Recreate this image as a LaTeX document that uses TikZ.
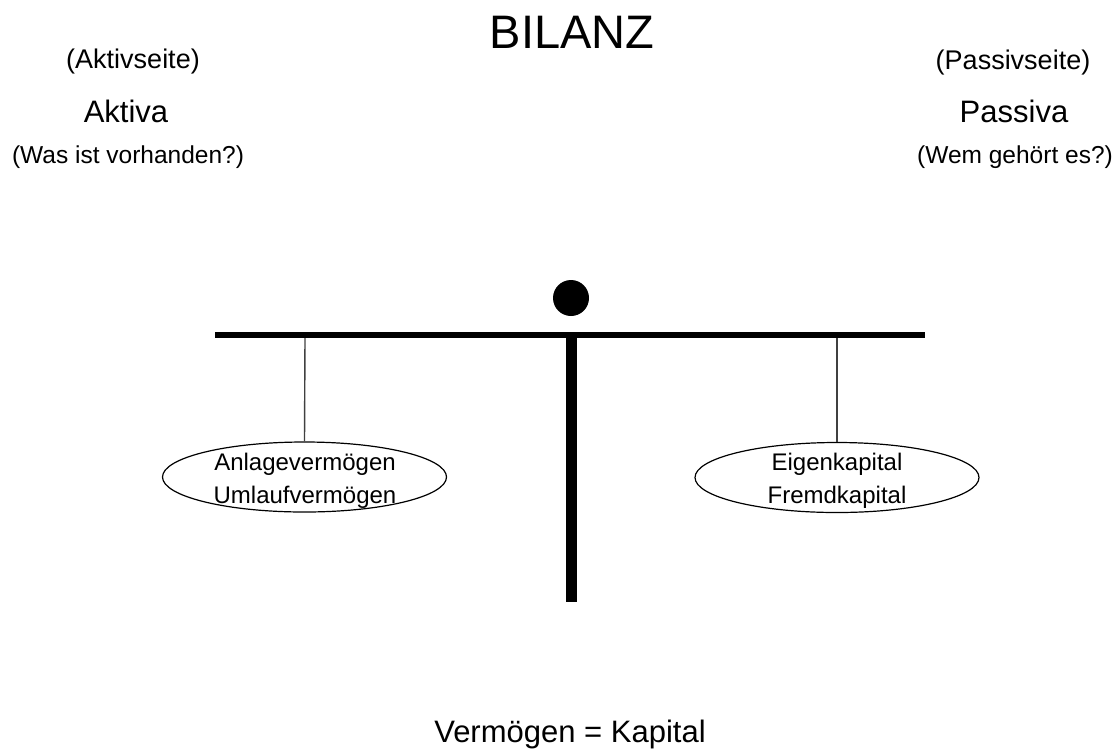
\documentclass[tikz,border=0pt]{standalone}
\usepackage{fontspec}
\setmainfont{Liberation Sans}
\usetikzlibrary{shapes.geometric}

\begin{document}
\begin{tikzpicture}[x=1pt,y=1pt,
    titel/.style={anchor=base,font=\fontsize{47}{56}\selectfont},
    seite/.style={anchor=base,font=\fontsize{27}{32}\selectfont},
    kopf/.style={anchor=base,font=\fontsize{31}{37}\selectfont},
    frage/.style={anchor=base,font=\fontsize{24.5}{29}\selectfont},
    schale/.style={draw,ellipse,line width=1.2pt,minimum width=284,minimum height=70,inner sep=0pt},
    schaltext/.style={align=center,font=\fontsize{24}{33}\selectfont},
    faden/.style={line width=1.4pt,black!75}]
    \useasboundingbox (0,0) rectangle (1119,-748);
    % Ueberschriften
    \node[titel] (bilanz) at (572,-48) {BILANZ};
    \node[seite] (aktivseite) at (133,-68) {(Aktivseite)};
    \node[kopf] (aktiva) at (126,-122) {Aktiva};
    \node[frage] (vorhanden) at (128,-163) {(Was ist vorhanden?)};
    \node[seite] (passivseite) at (1013,-69) {(Passivseite)};
    \node[kopf] (passiva) at (1014,-122) {Passiva};
    \node[frage] (gehoert) at (1015,-163) {(Wem gehört es?)};
    % Waage
    \coordinate (balkenL) at (215,-335);
    \coordinate (balkenR) at (925,-335);
    \coordinate (mitte) at (571.5,-335);
    \coordinate (fuss) at (571.5,-602);
    \draw[line width=6.5pt] (balkenL) -- (balkenR);
    \draw[line width=11pt] (mitte) -- (fuss);
    \node[circle,fill=black,minimum size=36,inner sep=0pt] (kugel) at (571,-298) {};
    % Schalen
    \node[schale] (links) at (304.5,-477) {};
    \node[schale] (rechts) at (837,-477.5) {};
    \node[schaltext] (linkstext) at (305,-481) {Anlagevermögen\\Umlaufvermögen};
    \node[schaltext] (rechtstext) at (837,-481) {Eigenkapital\\Fremdkapital};
    \coordinate (hakenL) at (305,-338);
    \coordinate (hakenR) at (837,-338);
    \draw[faden] (hakenL) -- (links.north);
    \draw[faden] (hakenR) -- (rechts.north);
    % Gleichung
    \node[kopf] (gleichung) at (570,-742) {Vermögen = Kapital};
\end{tikzpicture}
\end{document}
